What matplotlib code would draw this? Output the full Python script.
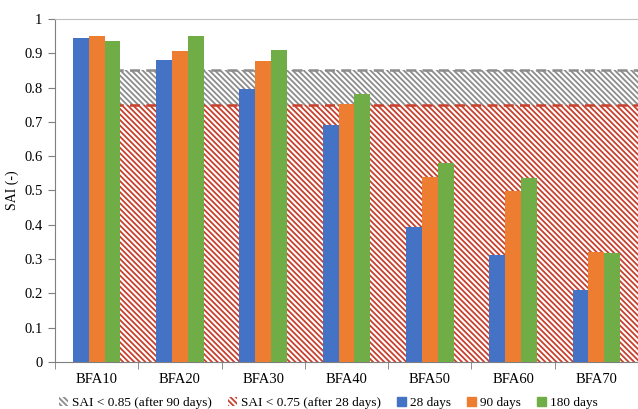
import matplotlib.pyplot as plt
from matplotlib.patches import Patch
import numpy as np

plt.rcParams['font.family'] = ['Liberation Serif', 'DejaVu Serif']
plt.rcParams['hatch.linewidth'] = 1.3

# data
mixes = ['BFA10', 'BFA20', 'BFA30', 'BFA40', 'BFA50', 'BFA60', 'BFA70']
sai_28 = [0.945, 0.880, 0.796, 0.691, 0.394, 0.312, 0.210]
sai_90 = [0.950, 0.907, 0.878, 0.752, 0.540, 0.499, 0.321]
sai_180 = [0.936, 0.950, 0.910, 0.781, 0.580, 0.536, 0.318]
limit_90 = 0.85
limit_28 = 0.75

blue = '#4472C4'
orange = '#ED7D31'
green = '#70AD47'
grey = '#8C8C8C'
red = '#C8402E'
stripes = '\\' * 6

fig = plt.figure(figsize=(6.38, 4.09), dpi=100)
ax = fig.add_axes([0.0862, 0.115, 0.9138, 0.8385])

x = np.arange(len(mixes))
w = 0.19

# threshold zones (start at first category, run off to the right)
xa = np.array([0, len(mixes) - 0.5])
ax.fill_between(xa, limit_28, limit_90, facecolor='white', edgecolor=grey,
                hatch=stripes, linewidth=0, zorder=1)
ax.fill_between(xa, 0, limit_28, facecolor='white', edgecolor=red,
                hatch=stripes, linewidth=0, zorder=1)
ax.plot(xa, [limit_90, limit_90], color=grey, ls=(0, (4, 2.5)), lw=1.8, zorder=2)
ax.plot(xa, [limit_28, limit_28], color=red, ls=(0, (4, 2.5)), lw=1.8, zorder=2)

ax.bar(x - w, sai_28, w, color=blue, zorder=3)
ax.bar(x, sai_90, w, color=orange, zorder=3)
ax.bar(x + w, sai_180, w, color=green, zorder=3)

ax.set_xlim(-0.5, len(mixes) - 0.5)
ax.set_ylim(0, 1)
ax.set_yticks(np.arange(0, 1.01, 0.1))
ax.set_yticklabels(['0', '0.1', '0.2', '0.3', '0.4', '0.5', '0.6', '0.7', '0.8', '0.9', '1'])
ax.set_xticks(x)
ax.set_xticklabels(mixes)
ax.set_xticks(np.arange(-0.5, len(mixes), 1), minor=True)
ax.tick_params(axis='x', which='major', length=0, labelsize=10.5, pad=8)
ax.tick_params(axis='x', which='minor', length=5, color='#7F7F7F')
ax.tick_params(axis='y', length=5, color='#7F7F7F', labelsize=10.5, pad=4)
ax.set_ylabel('SAI (-)', fontsize=10, labelpad=4)

ax.spines['right'].set_visible(False)
ax.spines['top'].set_color('#BFBFBF')
ax.spines['left'].set_color('#7F7F7F')
ax.spines['bottom'].set_color('#7F7F7F')

handles = [
    Patch(facecolor='white', edgecolor=grey, hatch=stripes, lw=0),
    Patch(facecolor='white', edgecolor=red, hatch=stripes, lw=0),
    Patch(color=blue), Patch(color=orange), Patch(color=green),
]
labels = ['SAI < 0.85 (after 90 days)', 'SAI < 0.75 (after 28 days)',
          '28 days', '90 days', '180 days']
fig.legend(handles, labels, loc='lower center', bbox_to_anchor=(0.515, -0.03),
           ncol=5, frameon=False, fontsize=9.5, handlelength=0.7,
           handleheight=0.7, handletextpad=0.3, columnspacing=1.2)

fig.savefig('out.png', dpi=100)
